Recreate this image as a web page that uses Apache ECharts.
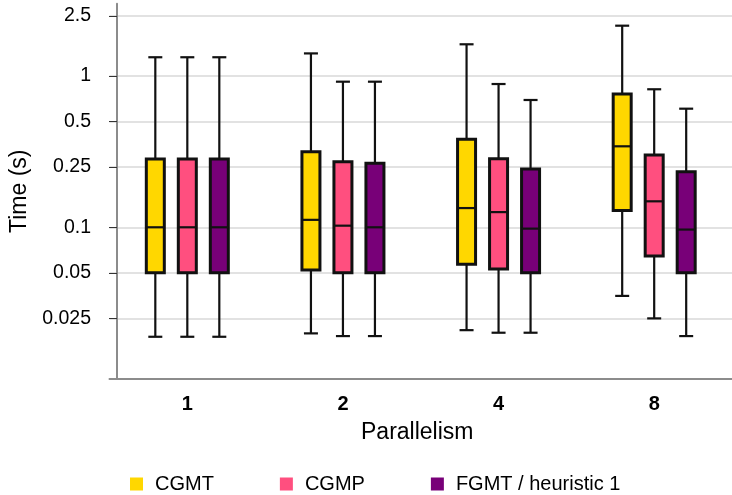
<!DOCTYPE html>
<html>
<head>
<meta charset="utf-8">
<script src="https://cdn.jsdelivr.net/npm/echarts@6/dist/echarts.min.js"></script>
<style>
  html, body { margin: 0; padding: 0; background: #fff; }
  #chart { width: 732px; height: 495px; }
</style>
</head>
<body>
<div id="chart"></div>
<script>
// categories (x) and y tick labels
var parallelism = ['1', '2', '4', '8'];
var timeTicks = [0.025, 0.05, 0.1, 0.25, 0.5, 1, 2.5];

// each box: [min, q1, median, q3, max]  (seconds)
var cgmt = [
    [0.0189, 0.050, 0.100, 0.283, 1.33],
    [0.0199, 0.0522, 0.112, 0.316, 1.41],
    [0.0209, 0.0569, 0.134, 0.382, 1.62],
    [0.0352, 0.129, 0.343, 0.760, 2.15]
];
var cgmp = [
    [0.0189, 0.050, 0.100, 0.283, 1.33],
    [0.0191, 0.050, 0.1025, 0.271, 0.917],
    [0.0201, 0.053, 0.126, 0.284, 0.885],
    [0.0250, 0.0646, 0.1485, 0.301, 0.817]
];
var fgmt = [
    [0.0189, 0.050, 0.100, 0.283, 1.33],
    [0.0191, 0.050, 0.100, 0.265, 0.917],
    [0.0201, 0.050, 0.098, 0.243, 0.694],
    [0.0191, 0.050, 0.0966, 0.233, 0.608]
];

var FONT = "'Liberation Sans', Arial, sans-serif";

// turn [min,q1,med,q3,max] rows into [catIndex, ...] rows for the custom series
var withIndex = function (rows) {
    return rows.map(function (r, i) { return [i].concat(r); });
};

// draws one box + whiskers, shifted sideways by `shift` px from the category center
var boxRenderer = function (shift, color) {
    return function (params, api) {
        var i = api.value(0);
        var lo = api.coord([i, api.value(1)]);
        var q1 = api.coord([i, api.value(2)]);
        var md = api.coord([i, api.value(3)]);
        var q3 = api.coord([i, api.value(4)]);
        var hi = api.coord([i, api.value(5)]);
        var x = lo[0] + shift;
        var bw = 18, cap = 7;
        var line = {stroke: '#111', lineWidth: 2.2};
        return {
            type: 'group',
            children: [
                {type: 'line', shape: {x1: x, y1: hi[1], x2: x, y2: q3[1]}, style: line},
                {type: 'line', shape: {x1: x, y1: q1[1], x2: x, y2: lo[1]}, style: line},
                {type: 'line', shape: {x1: x - cap, y1: hi[1], x2: x + cap, y2: hi[1]}, style: line},
                {type: 'line', shape: {x1: x - cap, y1: lo[1], x2: x + cap, y2: lo[1]}, style: line},
                {type: 'rect', shape: {x: x - bw / 2, y: q3[1], width: bw, height: q1[1] - q3[1]},
                    style: {fill: color, stroke: '#111', lineWidth: 3}},
                {type: 'line', shape: {x1: x - bw / 2, y1: md[1], x2: x + bw / 2, y2: md[1]}, style: line}
            ]
        };
    };
};

var makeSeries = function (name, rows, shift, color) {
    return {
        name: name,
        type: 'custom',
        renderItem: boxRenderer(shift, color),
        itemStyle: {color: color},
        encode: {x: 0, y: [1, 2, 3, 4, 5]},
        data: withIndex(rows)
    };
};

var chart = echarts.init(document.getElementById('chart'), null, {renderer: 'canvas'});
chart.setOption({
    animation: false,
    backgroundColor: '#fff',
    textStyle: {fontFamily: FONT},
    grid: {left: 109.5, width: 644, top: 3.8, height: 374.8},
    legend: {
        left: 130, top: 474, padding: 0,
        icon: 'rect', itemWidth: 13, itemHeight: 13, itemGap: 66,
        textStyle: {fontSize: 20, color: '#000', fontFamily: FONT, padding: [0, 0, 0, 7]},
        data: ['CGMT', 'CGMP', 'FGMT / heuristic 1']
    },
    xAxis: {
        type: 'category',
        data: parallelism,
        name: 'Parallelism',
        nameLocation: 'middle',
        nameGap: 43,
        nameTextStyle: {fontSize: 23, color: '#000', fontFamily: FONT, padding: [0, 7, 0, 0]},
        axisLine: {lineStyle: {color: '#8c8c8c', width: 2}},
        axisTick: {alignWithLabel: true, length: 7, lineStyle: {color: '#333', width: 1.5}},
        axisLabel: {fontSize: 20, fontWeight: 'bold', color: '#000', margin: 16, fontFamily: FONT},
        splitLine: {show: false}
    },
    yAxis: {
        type: 'log',
        logBase: 10,
        min: 0.01,
        max: 3,
        offset: -7.5,
        name: 'Time (s)',
        nameLocation: 'middle',
        nameGap: 85,
        nameTextStyle: {fontSize: 23, color: '#000', fontFamily: FONT},
        axisLine: {show: true, lineStyle: {color: '#8c8c8c', width: 2}},
        axisTick: {show: true, length: 8, customValues: timeTicks, lineStyle: {color: '#333', width: 1}},
        axisLabel: {
            customValues: timeTicks,
            fontSize: 19.5, color: '#000', margin: 26, fontFamily: FONT,
            formatter: function (v) { return String(+(+v).toPrecision(3)); }
        },
        splitLine: {show: true, lineStyle: {color: '#d9d9d9', width: 1.5}},
        minorTick: {show: false},
        minorSplitLine: {show: false}
    },
    series: [
        makeSeries('CGMT', cgmt, -32, '#FFD700'),
        makeSeries('CGMP', cgmp, 0, '#FF4F7F'),
        makeSeries('FGMT / heuristic 1', fgmt, 32, '#780078')
    ]
});
</script>
</body>
</html>
